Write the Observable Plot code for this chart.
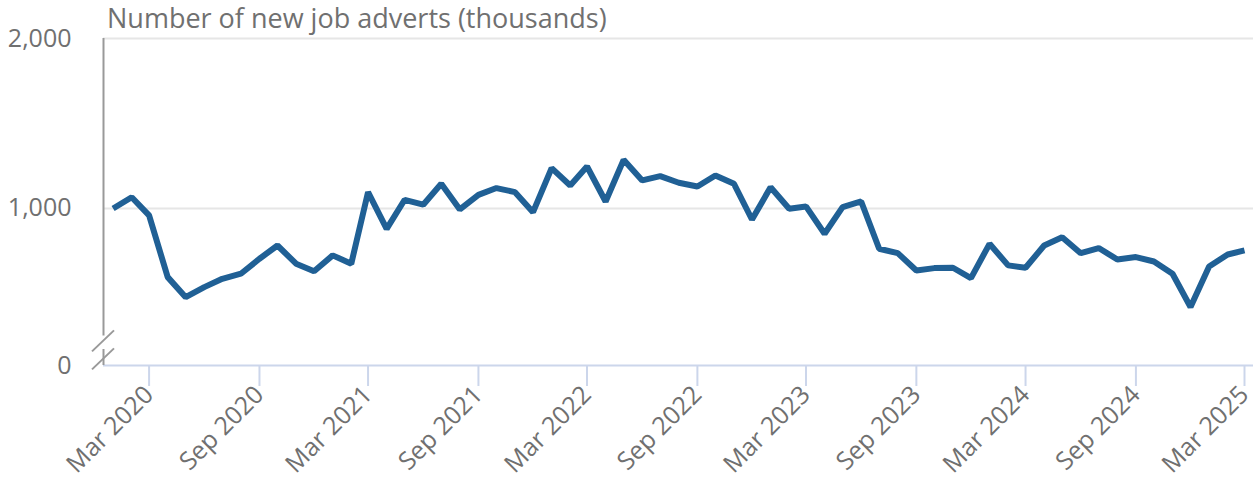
<!DOCTYPE html>
<html>
<head>
<meta charset="utf-8">
<script src="https://cdn.jsdelivr.net/npm/d3@7"></script>
<script src="https://cdn.jsdelivr.net/npm/@observablehq/plot@0.6"></script>
<style>
  html, body { margin: 0; padding: 0; background: #fff; }
  #chart { position: relative; width: 1255px; height: 481px; font-family: "Open Sans", sans-serif; }
  #title { position: absolute; left: 107px; top: 3px; font-size: 27px; line-height: 30px; color: #707070; white-space: nowrap; }
  #chart svg { position: absolute; left: 0; top: 0; }
</style>
</head>
<body>
<div id="chart"><div id="title">Number of new job adverts (thousands)</div></div>
<script>
// ---- Data ----
const firstMonth = "2020-01-01";
const lastMonth = "2025-03-01";
const values = [
  1000, 1066, 959, 596, 478, 537, 586, 616, 704, 782, 675, 631,   // 2020
  724, 675, 1096, 880, 1051, 1022, 1145, 994, 1080, 1120, 1096, 978, // 2021
  1237, 1135, 1247, 1041, 1286, 1165, 1190, 1151, 1129, 1194, 1145, 935, // 2022
  1125, 998, 1012, 851, 1008, 1041, 763, 737, 635, 649, 651, 590, // 2023
  792, 665, 651, 782, 831, 737, 767, 700, 714, 688, 616, 420,   // 2024
  659, 729, 753                                                  // 2025
];
const xTickMonths = ["2020-03-01", "2020-09-01", "2021-03-01", "2021-09-01", "2022-03-01",
  "2022-09-01", "2023-03-01", "2023-09-01", "2024-03-01", "2024-09-01", "2025-03-01"];
const xDomain = ["2019-12-16", "2025-03-16"];
// The axis is broken: the bottom of the frame is labelled "0"
const yAxisFloor = 76;
const yTicks = [yAxisFloor, 1000, 2000];
const yTickLabels = ["0", "1,000", "2,000"];
const yAxisGap = [250, 170];
const yBreakSlashes = [218, 112];

// ---- Build ----
const months = d3.utcMonth.range(new Date(firstMonth), d3.utcMonth.offset(new Date(lastMonth), 1));
const data = months.map((d, i) => ({date: d, value: values[i]}));
const xTicks = xTickMonths.map(s => new Date(s));
const labelOf = new Map(yTicks.map((t, i) => [t, yTickLabels[i]]));

const textColor = "#707070";
const chart = Plot.plot({
  width: 1255,
  height: 481,
  marginTop: 38,
  marginBottom: 116,
  marginLeft: 103,
  marginRight: 2,
  style: {fontFamily: "Open Sans", fontSize: "25px", color: textColor, background: "transparent"},
  x: {type: "utc", domain: xDomain.map(s => new Date(s))},
  y: {domain: [yAxisFloor, 2000]},
  marks: [
    Plot.ruleY([1000, 2000], {stroke: "#e6e6e6", strokeWidth: 2}),
    Plot.ruleY([yAxisFloor], {stroke: "#ccd6eb", strokeWidth: 2}),
    Plot.ruleX([new Date(xDomain[0])], {y1: 2000, y2: yAxisGap[0], stroke: "#999", strokeWidth: 2}),
    Plot.ruleX([new Date(xDomain[0])], {y1: yAxisGap[1], y2: yAxisFloor, stroke: "#999", strokeWidth: 2}),
    Plot.axisX({ticks: xTicks, tickFormat: d3.utcFormat("%b %Y"), tickRotate: -45, tickSize: 21,
      tickPadding: 4, stroke: "#ccd6eb", strokeWidth: 2, fill: textColor, fontSize: 25, label: null}),
    Plot.axisY({ticks: yTicks, tickFormat: d => labelOf.get(d), tickSize: 0, tickPadding: 32,
      fill: textColor, fontSize: 25, label: null}),
    Plot.line(data, {x: "date", y: "value", stroke: "#206095", strokeWidth: 6,
      strokeLinejoin: "miter", strokeLinecap: "butt"})
  ]
});

// Axis-break slashes, positioned through the chart's own scales
const sx = chart.scale("x"), sy = chart.scale("y");
const bx = sx.apply(new Date(xDomain[0]));
const svg = d3.select(chart);
yBreakSlashes.forEach(v => {
  const cy = sy.apply(v);
  svg.append("line")
    .attr("x1", bx - 11).attr("y1", cy + 10.5)
    .attr("x2", bx + 11).attr("y2", cy - 10.5)
    .attr("stroke", "#999").attr("stroke-width", 2);
});

document.getElementById("chart").appendChild(chart);
</script>
</body>
</html>
